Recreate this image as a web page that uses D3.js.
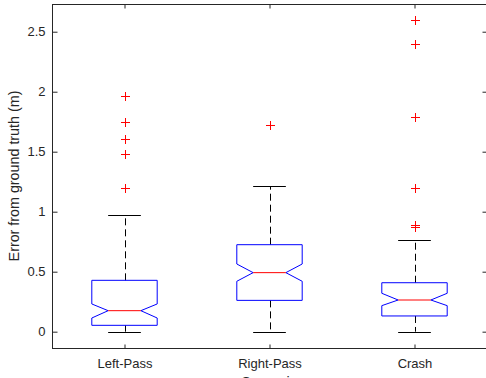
<!DOCTYPE html>
<html>
<head>
<meta charset="utf-8">
<script src="https://d3js.org/d3.v7.min.js"></script>
<style>
  body { margin: 0; background: #fff; }
  text { font-family: "Liberation Sans", Arial, sans-serif; fill: #262626; }
</style>
</head>
<body>
<script>
// Data
var categories = ["Left-Pass", "Right-Pass", "Crash"];
var q1 = [0.053, 0.261, 0.131];
var median = [0.175, 0.492, 0.264];
var q3 = [0.428, 0.725, 0.408];
var notchLo = [0.114, 0.42, 0.217];
var notchHi = [0.231, 0.564, 0.32];
var whiskerLo = [0, 0, 0];
var whiskerHi = [0.973, 1.214, 0.764];
var outliers = [
  [1.964, 1.748, 1.609, 1.481, 1.195],
  [1.722],
  [2.598, 2.395, 1.792, 1.2, 0.885, 0.87]
];
var yTicks = [0, 0.5, 1, 1.5, 2, 2.5];

var width = 486, height = 378;
var plotLeft = 52, plotRight = 487, plotTop = 4, plotBottom = 348;
var axisColor = "#262626";

var svg = d3
  .select("body")
  .append("svg")
  .attr("width", width)
  .attr("height", height);

var x = d3.scaleLinear().domain([0.5, 3.5]).range([plotLeft, plotRight]);
var y = d3.scaleLinear().domain([-0.136, 2.731]).range([plotBottom, plotTop]);

var boxHalf = 0.2255;
var notchHalf = boxHalf / 2;

// Axis frame
svg
  .append("rect")
  .attr("x", plotLeft + 0.5)
  .attr("y", plotTop + 0.5)
  .attr("width", plotRight - plotLeft)
  .attr("height", plotBottom - plotTop)
  .attr("fill", "none")
  .attr("stroke", axisColor)
  .attr("stroke-width", 1);

// Y axis ticks and labels (left and right)
var yAxis = d3
  .axisLeft(y)
  .tickValues(yTicks)
  .tickSizeInner(-5)
  .tickSizeOuter(0)
  .tickPadding(7)
  .tickFormat(function (d) { return String(d); });
var gy = svg.append("g").attr("transform", "translate(" + (plotLeft + 0.5) + ",0)").call(yAxis);
gy.select(".domain").remove();
gy.selectAll("line").attr("stroke", axisColor);
gy.selectAll("text").style("font-size", "13px").attr("fill", axisColor);

var gyr = svg
  .append("g")
  .attr("transform", "translate(" + (plotRight + 0.5) + ",0)")
  .call(d3.axisRight(y).tickValues(yTicks).tickSizeInner(-5).tickSizeOuter(0).tickFormat(""));
gyr.select(".domain").remove();
gyr.selectAll("line").attr("stroke", axisColor);

// X axis ticks and labels (bottom and top)
var xAxis = d3
  .axisBottom(x)
  .tickValues([1, 2, 3])
  .tickSizeInner(-4)
  .tickSizeOuter(0)
  .tickPadding(10)
  .tickFormat(function (d) { return categories[d - 1]; });
var gx = svg.append("g").attr("transform", "translate(0," + (plotBottom + 0.5) + ")").call(xAxis);
gx.select(".domain").remove();
gx.selectAll("line").attr("stroke", axisColor);
gx.selectAll("text").style("font-size", "13px").attr("fill", axisColor);

var gxt = svg
  .append("g")
  .attr("transform", "translate(0," + (plotTop + 0.5) + ")")
  .call(d3.axisTop(x).tickValues([1, 2, 3]).tickSizeInner(-4).tickSizeOuter(0).tickFormat(""));
gxt.select(".domain").remove();
gxt.selectAll("line").attr("stroke", axisColor);

// Axis labels (x label sits partly below the window, as in the reference)
svg
  .append("text")
  .attr("transform", "translate(19," + (plotTop + plotBottom) / 2 + ") rotate(-90)")
  .attr("text-anchor", "middle")
  .style("font-size", "14.3px")
  .text("Error from ground truth (m)");

svg
  .append("text")
  .attr("x", (plotLeft + plotRight) / 2)
  .attr("y", 387)
  .attr("text-anchor", "middle")
  .style("font-size", "14.3px")
  .text("Scenario");

// Boxes
var idx = d3.range(categories.length);
var groups = svg.selectAll(".box").data(idx).enter().append("g").attr("class", "box");

// Whiskers (dashed)
groups
  .append("line")
  .attr("x1", function (i) { return Math.round(x(i + 1)) + 0.5; })
  .attr("x2", function (i) { return Math.round(x(i + 1)) + 0.5; })
  .attr("y1", function (i) { return y(q3[i]); })
  .attr("y2", function (i) { return y(whiskerHi[i]); })
  .attr("stroke", "#000")
  .attr("stroke-dasharray", "7,4");

groups
  .append("line")
  .attr("x1", function (i) { return Math.round(x(i + 1)) + 0.5; })
  .attr("x2", function (i) { return Math.round(x(i + 1)) + 0.5; })
  .attr("y1", function (i) { return y(q1[i]); })
  .attr("y2", function (i) { return y(whiskerLo[i]); })
  .attr("stroke", "#000")
  .attr("stroke-dasharray", "7,4");

// Whisker caps
[whiskerHi, whiskerLo].forEach(function (w) {
  groups
    .append("line")
    .attr("x1", function (i) { return x(i + 1 - notchHalf); })
    .attr("x2", function (i) { return x(i + 1 + notchHalf); })
    .attr("y1", function (i) { return Math.round(y(w[i])) + 0.5; })
    .attr("y2", function (i) { return Math.round(y(w[i])) + 0.5; })
    .attr("stroke", "#000");
});

// Notched box outline
groups
  .append("path")
  .attr("d", function (i) {
    var c = i + 1;
    var pts = [
      [c - boxHalf, q1[i]],
      [c - boxHalf, notchLo[i]],
      [c - notchHalf, median[i]],
      [c - boxHalf, notchHi[i]],
      [c - boxHalf, q3[i]],
      [c + boxHalf, q3[i]],
      [c + boxHalf, notchHi[i]],
      [c + notchHalf, median[i]],
      [c + boxHalf, notchLo[i]],
      [c + boxHalf, q1[i]]
    ];
    return d3.line().x(function (p) { return x(p[0]); }).y(function (p) { return y(p[1]); })(pts) + "Z";
  })
  .attr("fill", "none")
  .attr("stroke", "#0000ff")
  .attr("stroke-width", 1);

// Median
groups
  .append("line")
  .attr("x1", function (i) { return x(i + 1 - notchHalf); })
  .attr("x2", function (i) { return x(i + 1 + notchHalf); })
  .attr("y1", function (i) { return y(median[i]); })
  .attr("y2", function (i) { return y(median[i]); })
  .attr("stroke", "#ff0000");

// Outliers as red plus signs (two filled bars each)
var outPts = [];
outliers.forEach(function (arr, i) {
  arr.forEach(function (v) { outPts.push({ c: i + 1, v: v }); });
});

var plus = svg
  .selectAll(".outlier")
  .data(outPts)
  .enter()
  .append("g")
  .attr("class", "outlier")
  .attr("transform", function (d) {
    return "translate(" + Math.round(x(d.c)) + "," + Math.round(y(d.v)) + ")";
  })
  .attr("fill", "#ff0000");

plus.append("rect").attr("x", -4).attr("y", 0).attr("width", 9).attr("height", 1);
plus.append("rect").attr("x", 0).attr("y", -4).attr("width", 1).attr("height", 9);
</script>
</body>
</html>
